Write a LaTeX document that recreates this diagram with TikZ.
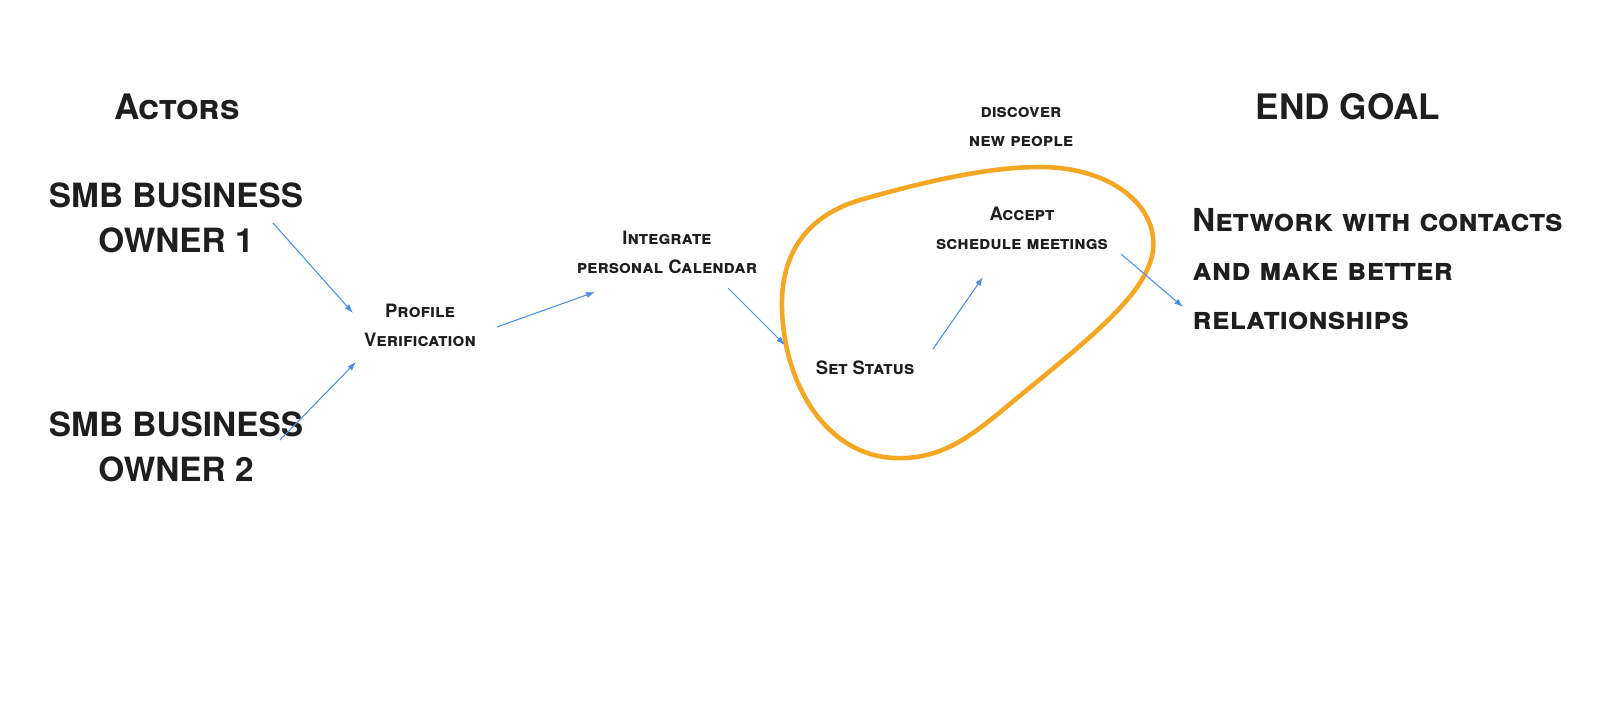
\documentclass[tikz,border=0pt]{standalone}
\usepackage{fontspec}
\setmainfont{TeX Gyre Heros}
\usetikzlibrary{arrows.meta,calc}
\definecolor{flowblue}{HTML}{4A90E2}
\definecolor{markorange}{HTML}{F5A623}
\definecolor{ink}{HTML}{1E1E1E}
\begin{document}
\begin{tikzpicture}[
    x=0.02cm, y=-0.02cm,
    head/.style={font=\fontsize{20}{25}\selectfont\bfseries\scshape, text=ink},
    actor/.style={font=\fontsize{19}{25.5}\selectfont\bfseries\scshape, text=ink, align=center, inner sep=0pt},
    lbl/.style={font=\fontsize{10.5}{16.5}\selectfont\bfseries\scshape, text=ink, align=center, inner sep=0pt},
    goaltext/.style={font=\fontsize{18}{27.8}\selectfont\bfseries\scshape, text=ink, align=left, inner sep=0pt},
    arr/.style={-{Latex[length=5pt,width=3.5pt]}, line width=0.6pt, flowblue}
]
    \useasboundingbox (0,0) rectangle (1600,704);
    \node[head] (actors) at (177,107) {Actors};
    \node[head] (endgoal) at (1348,107) {END GOAL};
    \node[actor] (o1) at (176,218) {SMB BUSINESS\\OWNER 1};
    \node[actor] (o2) at (176,447) {SMB BUSINESS\\OWNER 2};
    \node[lbl] (prof) at (420,325) {Profile\\Verification};
    \node[lbl] (integ) at (667,252) {Integrate\\personal Calendar};
    \node[lbl] (setst) at (865,368) {Set Status};
    \node[lbl] (accept) at (1022,228) {Accept\\schedule meetings};
    \node[lbl] (disc) at (1021,127) {discover\\new people};
    \node[goaltext, anchor=west] (goal) at (1192,269) {Network with contacts\\and make better\\relationships};
    % orange loop round the status step
    \draw[markorange, line width=2.6pt]
        (1040,167) .. controls (1110,167) and (1158,205) .. (1153,250)
        .. controls (1148,290) and (1100,330) .. (1033,385)
        .. controls (980,428) and (950,460) .. (895,458)
        .. controls (830,456) and (785,390) .. (782,310)
        .. controls (780,250) and (810,215) .. (860,200)
        .. controls (930,180) and (990,167) .. (1040,167) -- cycle;
    \draw[arr] ($(o1)+(97,5)$) -- ($(prof)+(-67,-12)$);
    \draw[arr] ($(o2)+(104,-7)$) -- ($(prof)+(-64,37)$);
    \draw[arr] ($(prof)+(77,2)$) -- ($(integ)+(-72,40)$);
    \draw[arr] ($(integ)+(61,36)$) -- ($(setst)+(-80,-23)$);
    \draw[arr] ($(setst)+(68,-19)$) -- ($(accept)+(-39,49)$);
    \draw[arr] ($(accept)+(99,26)$) -- ($(goal.west)+(-9,38)$);
\end{tikzpicture}
\end{document}
